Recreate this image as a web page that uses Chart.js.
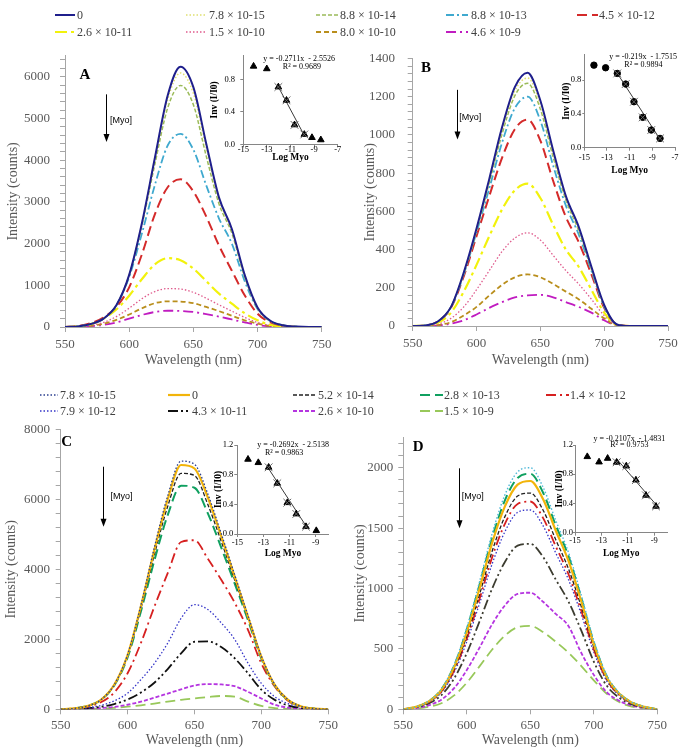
<!DOCTYPE html>
<html><head><meta charset="utf-8">
<script src="https://cdn.jsdelivr.net/npm/chart.js@4.4.0/dist/chart.umd.min.js"></script>
<style>
body{margin:0;background:#fff;width:685px;height:749px;position:relative;overflow:hidden;}
canvas{position:absolute;}
.clip{position:absolute;overflow:hidden;pointer-events:none;}
.lg{position:absolute;display:flex;align-items:center;height:16px;font-family:"Liberation Serif",serif;font-size:12px;color:#404040;white-space:nowrap;}
.lg svg{display:block;}
</style></head><body>
<canvas id="cA" width="341" height="334" style="left:0;top:38px"></canvas>
<canvas id="cB" width="344" height="334" style="left:341px;top:38px"></canvas>
<canvas id="cC" width="341" height="335" style="left:0;top:414px"></canvas>
<canvas id="cD" width="344" height="335" style="left:341px;top:414px"></canvas>
<div class="clip" style="left:0;top:0;width:341px;height:749px">
  <canvas id="iA" width="145" height="125" style="left:205px;top:45px"></canvas>
  <canvas id="iC" width="143" height="135" style="left:198px;top:430px"></canvas>
</div>
<canvas id="iB" width="140" height="135" style="left:545px;top:45px"></canvas>
<canvas id="iD" width="145" height="135" style="left:540px;top:430px"></canvas>
<div id="legends"></div>
<script>
// ---------------- DATA ----------------
const wavelength = [550,560,570,580,590,600,610,620,630,640,650,660,670,680,690,700,710,720,730,740,750];
const xTickLabels = [550,600,650,700,750];

// Panels A & B concentrations (M)
const concAB = ["0","7.8 × 10-15","8.8 × 10-14","8.8 × 10-13","4.5 × 10-12","2.6 × 10-11","1.5 × 10-10","8.0 × 10-10","4.6 × 10-9"];
// Panels C & D concentrations (M)
const concCD = ["7.8 × 10-15","0","5.2 × 10-14","2.8 × 10-13","1.4 × 10-12","7.9 × 10-12","4.3 × 10-11","2.6 × 10-10","1.5 × 10-9"];

// Panel A intensities (counts)
const A_0      = [0,15,70,200,520,1250,2500,4050,5550,6240,5750,4400,3100,2350,1250,470,150,40,10,0,0];
const A_78e15  = [0,15,70,200,520,1250,2490,4000,5450,6090,5600,4300,3050,2300,1230,460,150,40,10,0,0];
const A_88e14  = [0,15,70,200,520,1240,2450,3900,5250,5790,5330,4100,2950,2250,1200,450,140,40,10,0,0];
const A_88e13  = [0,15,70,200,510,1200,2250,3400,4350,4630,4250,3400,2600,2000,1100,430,140,40,10,0,0];
const A_45e12  = [0,20,90,230,480,950,1750,2700,3350,3540,3250,2650,1950,1350,760,320,110,30,5,0,0];
const A_26e11  = [0,15,70,200,420,750,1150,1500,1650,1600,1400,1100,800,560,330,160,50,15,0,0,0];
const A_15e10  = [0,10,40,110,250,450,680,850,920,910,830,690,530,380,230,110,40,10,0,0,0];
const A_80e10  = [0,8,30,80,170,300,450,570,615,610,570,480,380,270,160,80,25,5,0,0,0];
const A_46e9   = [0,5,20,50,110,200,290,360,390,385,360,310,250,180,110,50,15,5,0,0,0];

// Panel B intensities (counts)
const B_0      = [0,3,25,100,280,510,770,1040,1250,1325,1180,920,680,520,310,110,8,0,0,0,0];
const B_78e15  = [0,3,25,100,275,505,760,1025,1230,1298,1160,905,670,510,305,105,8,0,0,0,0];
const B_88e14  = [0,3,25,100,275,500,750,1005,1205,1270,1135,885,660,500,300,105,8,0,0,0,0];
const B_88e13  = [0,3,25,98,270,490,720,960,1140,1200,1075,840,630,480,290,100,8,0,0,0,0];
const B_45e12  = [0,3,25,95,260,470,680,880,1030,1080,970,760,570,440,270,95,8,0,0,0,0];
const B_26e11  = [0,2,18,70,180,320,470,610,710,745,670,530,400,310,190,70,6,0,0,0,0];
const B_15e10  = [0,1,10,40,100,190,290,390,460,488,450,370,290,220,140,55,5,0,0,0,0];
const B_80e10  = [0,1,5,20,55,100,160,215,255,270,255,220,180,140,90,40,4,0,0,0,0];
const B_46e9   = [0,0,3,12,30,60,95,125,150,160,163,150,125,100,70,30,3,0,0,0,0];

// Panel C intensities (counts)
const C_78e15  = [0,25,95,270,700,1560,2980,4620,6100,7090,7000,6150,5020,3850,2680,1520,710,275,80,20,0];
const C_0      = [0,25,95,270,700,1550,2950,4550,6000,6980,6880,6050,4950,3800,2650,1500,700,270,80,20,0];
const C_52e14  = [0,25,95,270,690,1520,2880,4420,5800,6740,6680,5850,4800,3700,2600,1480,690,265,80,20,0];
const C_28e13  = [0,25,95,265,680,1480,2800,4250,5550,6390,6330,5600,4620,3600,2550,1450,680,260,78,20,0];
const C_14e12  = [0,20,75,200,480,1030,1900,2930,3890,4780,4830,4300,3700,3050,2270,1310,650,240,70,18,0];
const C_79e12  = [0,10,40,110,240,460,850,1310,1890,2600,2990,2850,2470,2000,1320,740,360,160,55,15,0];
const C_43e11  = [0,8,30,70,150,280,480,760,1150,1600,1930,1940,1780,1460,1030,560,270,110,35,10,0];
const C_26e10  = [0,5,15,35,70,130,220,330,450,570,680,720,710,660,500,310,130,45,12,3,0];
const C_15e9   = [0,3,8,20,40,75,115,165,220,270,310,350,380,360,220,95,35,10,3,0,0];

// Panel D intensities (counts)
const D_78e15  = [0,21,68,168,370,675,1055,1455,1775,1965,2000,1840,1565,1300,950,570,285,135,58,21,0];
const D_0      = [0,20,65,160,350,640,1000,1380,1680,1860,1890,1740,1480,1230,900,540,270,130,55,20,0];
const D_52e14  = [0,19,62,152,332,608,950,1310,1595,1765,1790,1650,1405,1165,855,515,258,124,52,19,0];
const D_28e13  = [0,20,67,165,360,660,1030,1420,1730,1915,1950,1795,1525,1270,925,555,278,132,57,20,0];
const D_14e12  = [0,18,60,147,320,585,913,1260,1535,1700,1720,1585,1350,1120,820,495,248,120,50,18,0];
const D_79e12  = [0,17,57,140,305,560,875,1205,1470,1630,1650,1520,1295,1075,790,475,238,115,48,17,0];
const D_43e11  = [0,15,48,117,255,465,727,1000,1220,1355,1370,1262,1075,893,655,395,198,95,40,14,0];
const D_26e10  = [0,10,33,80,175,325,510,705,860,955,965,890,790,690,470,285,143,70,30,10,0];
const D_15e9   = [0,6,20,50,115,220,355,495,610,680,690,640,560,470,360,240,130,60,22,7,0];

// Insets: log[Myo] vs Inv(I/I0)
const insetA_x = [-14.13,-13.01,-12.03,-11.34,-10.66,-9.83,-9.18,-8.43];
const insetA_y = [0.966,0.934,0.709,0.544,0.240,0.122,0.083,0.055];
const insetA_fitX = [-12.03,-11.34,-10.66,-9.83];
const insetA_fitY = [0.709,0.544,0.240,0.122];
const insetA_lineX = [-12.03,-9.83];
const insetA_lineY = [0.71,0.11];

const insetB_x = [-14.15,-13.12,-12.09,-11.35,-10.62,-9.85,-9.09,-8.32];
const insetB_y = [0.977,0.946,0.879,0.753,0.544,0.359,0.209,0.110];
const insetB_fitX = [-12.09,-11.35,-10.62,-9.85,-9.09,-8.32];
const insetB_fitY = [0.879,0.753,0.544,0.359,0.209,0.110];
const insetB_lineX = [-12.09,-8.32];
const insetB_lineY = [0.88,0.10];

const insetC_x = [-14.18,-13.39,-12.60,-11.94,-11.17,-10.48,-9.74,-8.95];
const insetC_y = [1.007,0.962,0.899,0.683,0.422,0.270,0.099,0.045];
const insetC_fitX = [-12.60,-11.94,-11.17,-10.48,-9.74];
const insetC_fitY = [0.899,0.683,0.422,0.270,0.099];
const insetC_lineX = [-12.60,-9.74];
const insetC_lineY = [0.88,0.11];

const insetD_x = [-14.07,-13.18,-12.53,-11.85,-11.12,-10.39,-9.63,-8.87];
const insetD_y = [1.040,0.967,1.017,0.963,0.912,0.720,0.511,0.360];
const insetD_fitX = [-11.85,-11.12,-10.39,-9.63,-8.87];
const insetD_fitY = [0.963,0.912,0.720,0.511,0.360];
const insetD_lineX = [-11.85,-8.87];
const insetD_lineY = [1.01,0.385];

const insetXTicksAB = [-15,-13,-11,-9,-7];
const insetXTicksCD = [-15,-13,-11,-9];
const insetYTicksAB = [0,0.4,0.8];
const insetYTicksCD = [0,0.4,0.8,1.2];

const eqA = ["y = -0.2711x  - 2.5526","R² = 0.9689"];
const eqB = ["y = -0.219x  - 1.7515","R² = 0.9894"];
const eqC = ["y = -0.2692x  - 2.5138","R² = 0.9863"];
const eqD = ["y = -0.2107x  - 1.4831","R² = 0.9753"];

// ---------------- STYLES ----------------
const SERIF = '"Liberation Serif", "Times New Roman", serif';
const SANS = '"Liberation Sans", Arial, sans-serif';
const axisCol = '#A6A6A6', labelCol = '#595959';

const styleAB = [
  {color:'#1F1F8C', dash:[], width:2},
  {color:'#E0E070', dash:[1.5,2], width:1.5},
  {color:'#9BBB59', dash:[4,2], width:1.5},
  {color:'#3FA9CF', dash:[8,3,2,3], width:1.8},
  {color:'#D42A2A', dash:[10,5], width:2},
  {color:'#F2F20C', dash:[12,4,3,4], width:2.2},
  {color:'#DF5A8C', dash:[1.5,2], width:1.3},
  {color:'#B98E1C', dash:[5,3], width:1.8},
  {color:'#C01CC0', dash:[10,4,2,4], width:1.8}
];
const styleC = [
  {color:'#2B3F8F', dash:[1.5,2], width:1.3},
  {color:'#F2B40A', dash:[], width:2.2},
  {color:'#222222', dash:[4,2], width:1.3},
  {color:'#10A060', dash:[10,5], width:2},
  {color:'#D62020', dash:[10,4,2,4], width:1.8},
  {color:'#3535C8', dash:[1.5,2], width:1.3},
  {color:'#111111', dash:[10,3,2,3,2,3], width:1.8},
  {color:'#B535E0', dash:[4,2], width:1.8},
  {color:'#98C85A', dash:[10,5], width:1.8}
];
const styleD = styleC.map((s,i)=> i===0 ? {color:'#4FB8D8', dash:[1.5,2], width:1.4} : (i===6 ? {color:'#3C3C30', dash:[10,3,2,3,2,3], width:1.8} : s));

const seriesA = [A_0,A_78e15,A_88e14,A_88e13,A_45e12,A_26e11,A_15e10,A_80e10,A_46e9];
const seriesB = [B_0,B_78e15,B_88e14,B_88e13,B_45e12,B_26e11,B_15e10,B_80e10,B_46e9];
const seriesC = [C_78e15,C_0,C_52e14,C_28e13,C_14e12,C_79e12,C_43e11,C_26e10,C_15e9];
const seriesD = [D_78e15,D_0,D_52e14,D_28e13,D_14e12,D_79e12,D_43e11,D_26e10,D_15e9];

// ---------------- PLUGIN ----------------
const annotPlugin = {
  id:'annot',
  afterDatasetsDraw(chart, args, o){
    if(!o) return;
    const ctx = chart.ctx, xs = chart.scales.x, ys = chart.scales.y;
    ctx.save();
    (o.texts||[]).forEach(t=>{
      ctx.font = t.font; ctx.fillStyle = t.color||'#000';
      ctx.textAlign = t.align||'left'; ctx.textBaseline='middle';
      ctx.fillText(t.text, xs.getPixelForValue(t.x), ys.getPixelForValue(t.y));
    });
    if(o.arrow){
      const a=o.arrow, px=Math.round(xs.getPixelForValue(a.x))+0.5, y1=ys.getPixelForValue(a.y1), y2=ys.getPixelForValue(a.y2);
      ctx.strokeStyle='#000'; ctx.lineWidth=1;
      ctx.beginPath(); ctx.moveTo(px,y1); ctx.lineTo(px,y2-5); ctx.stroke();
      ctx.fillStyle='#000'; ctx.beginPath(); ctx.moveTo(px,y2); ctx.lineTo(px-3,y2-8); ctx.lineTo(px+3,y2-8); ctx.closePath(); ctx.fill();
    }
    ctx.restore();
  }
};

function minorTicks(first, step, max){
  const t=[]; for(let v=first; v<=max+1e-9; v+=step) t.push({value:Math.round(v*1000)/1000}); return t;
}

function mainChart(id, series, styles, labels, c){
  return new Chart(document.getElementById(id), {
    type:'line',
    data:{datasets: series.map((vals,i)=>({
      label: labels[i],
      data: wavelength.map((w,k)=>({x:w, y:vals[k]})),
      borderColor: styles[i].color, borderWidth: styles[i].width, borderDash: styles[i].dash,
      pointRadius:0, fill:false, cubicInterpolationMode:'monotone', borderCapStyle:'butt'
    }))},
    options:{
      responsive:false, animation:false, events:[],
      layout:{autoPadding:false, padding:c.pad},
      plugins:{legend:{display:false}, tooltip:{enabled:false}, annot:c.annot},
      scales:{
        x:{type:'linear', min:550, max:750,
          afterBuildTicks:s=>{s.ticks = xTickLabels.map(v=>({value:v}));},
          afterFit:s=>{s.height=c.xh;},
          grid:{drawOnChartArea:false, tickLength:5, color:axisCol},
          border:{color:axisCol, width:1},
          ticks:{autoSkip:false, maxRotation:0, padding:c.xtp, color:labelCol, font:{family:SERIF, size:13}, callback:v=>String(v)},
          title:{display:true, text:'Wavelength (nm)', color:labelCol, font:{family:SERIF, size:14}, padding:{top:0, bottom:c.xtitle}}
        },
        y:{type:'linear', min:0, max:c.ymax,
          afterBuildTicks:s=>{s.ticks = minorTicks(0, c.yminor, c.ymax);},
          afterFit:s=>{s.width=c.yw;},
          grid:{drawOnChartArea:false, tickLength:5, color:axisCol},
          border:{color:axisCol, width:1},
          ticks:{autoSkip:false, padding:c.ytp, color:labelCol, font:{family:SERIF, size:13},
            callback:v=> c.ymajors.includes(v) ? String(v) : ''},
          title:{display:true, text:'Intensity (counts)', color:labelCol, font:{family:SERIF, size:14}, padding:{top:c.ytitle, bottom:0}}
        }
      }
    },
    plugins:[annotPlugin]
  });
}

function insetChart(id, d, c){
  return new Chart(document.getElementById(id), {
    type:'scatter',
    data:{datasets:[
      {data:d.fitX.map((x,i)=>({x, y:d.fitY[i]})), pointStyle:'crossRot', pointRadius:5.5, borderColor:'#6A6A6A', pointBorderWidth:1, showLine:false},
      {data:d.x.map((x,i)=>({x, y:d.y[i]})), pointStyle:c.marker, pointRadius:c.mr, backgroundColor:'#000', borderColor:'#000', showLine:false},
      {data:d.lineX.map((x,i)=>({x, y:d.lineY[i]})), showLine:true, pointRadius:0, borderColor:'#3A3A3A', borderWidth:1}
    ]},
    options:{
      responsive:false, animation:false, events:[],
      layout:{autoPadding:false, padding:c.pad},
      plugins:{legend:{display:false}, tooltip:{enabled:false}, annot:{texts:c.texts}},
      scales:{
        x:{type:'linear', min:-15, max:c.xmax,
          afterBuildTicks:s=>{s.ticks = c.xticks.map(v=>({value:v}));},
          afterFit:s=>{s.height=c.xh;},
          grid:{drawOnChartArea:false, tickLength:3, color:'#868686'},
          border:{color:'#868686', width:1},
          ticks:{autoSkip:false, maxRotation:0, padding:c.xtp, color:'#000', font:{family:SERIF, size:8.5}, callback:v=>String(v)},
          title:{display:true, text:'Log Myo', color:'#000', font:{family:SERIF, size:9.5, weight:'bold'}, padding:{top:0, bottom:c.xtitle}}
        },
        y:{type:'linear', min:0, max:c.ymax,
          afterBuildTicks:s=>{s.ticks = c.yticks.map(v=>({value:v}));},
          afterFit:s=>{s.width=c.yw;},
          grid:{drawOnChartArea:false, tickLength:c.ytl, color:'#868686'},
          border:{color:'#868686', width:1},
          ticks:{autoSkip:false, padding:c.ytp, color:'#000', font:{family:SERIF, size:8.5}, callback:v=>v.toFixed(1)},
          title:{display:true, text:'Inv (I/I0)', color:'#000', font:{family:SERIF, size:9.5, weight:'bold'}, padding:{top:c.ytitle, bottom:0}}
        }
      }
    },
    plugins:[annotPlugin]
  });
}

const letterFont = 'bold 15px '+SERIF, myoFont = '9px '+SANS, eqFont = '8px '+SERIF;

mainChart('cA', seriesA, styleAB, concAB, {
  pad:{left:0,right:19.3,top:9.9,bottom:0}, xh:45, yw:65, ymax:6500, yminor:200,
  ymajors:[0,1000,2000,3000,4000,5000,6000], ytp:10, ytitle:4.6, xtp:5, xtitle:3,
  annot:{texts:[{text:'A', x:565.6, y:6040, font:letterFont, align:'center'},
                {text:'[Myo]', x:585, y:4946, font:myoFont}],
         arrow:{x:582, y1:5576, y2:4433}}
});
mainChart('cB', seriesB, styleAB, concAB, {
  pad:{left:0,right:17,top:18.7,bottom:0}, xh:46, yw:71.7, ymax:1400, yminor:40,
  ymajors:[0,200,400,600,800,1000,1200,1400], ytp:12.7, ytitle:20.6, xtp:4.5, xtitle:3.6,
  annot:{texts:[{text:'B', x:560.4, y:1348, font:letterFont, align:'center'},
                {text:'[Myo]', x:586.5, y:1092, font:myoFont}],
         arrow:{x:585, y1:1236, y2:976}}
});
mainChart('cC', seriesC, styleC, concCD, {
  pad:{left:0,right:10,top:15.3,bottom:0}, xh:39.7, yw:60.7, ymax:8000, yminor:400,
  ymajors:[0,2000,4000,6000,8000], ytp:5.7, ytitle:3.3, xtp:3, xtitle:0.6,
  annot:{texts:[{text:'C', x:554.4, y:7646, font:letterFont, align:'center'},
                {text:'[Myo]', x:587.2, y:6074, font:myoFont}],
         arrow:{x:581.8, y1:6931, y2:5217}}
});
mainChart('cD', seriesD, styleD, concCD, {
  pad:{left:0,right:27.7,top:23.5,bottom:0}, xh:39.7, yw:62.3, ymax:2250, yminor:100,
  ymajors:[0,500,1000,1500,2000], ytp:5, ytitle:10.6, xtp:3, xtitle:0.6,
  annot:{texts:[{text:'D', x:561.8, y:2174, font:letterFont, align:'center'},
                {text:'[Myo]', x:596, y:1760, font:myoFont}],
         arrow:{x:594, y1:1995, y2:1498}}
});

insetChart('iA', {x:insetA_x, y:insetA_y, fitX:insetA_fitX, fitY:insetA_fitY, lineX:insetA_lineX, lineY:insetA_lineY}, {
  pad:{left:0,right:12.3,top:6.35,bottom:0}, xh:25.7, yw:38.3, xmax:-7, ymax:1.1,
  xticks:insetXTicksAB, yticks:insetYTicksAB, xtp:-3, xtitle:6.6, ytl:3, ytp:5.3, ytitle:4.3,
  marker:'triangle', mr:3.8,
  texts:[{text:eqA[0], x:-13.3, y:1.057, font:eqFont},{text:eqA[1], x:-11.65, y:0.958, font:eqFont}]
});
insetChart('iB', {x:insetB_x, y:insetB_y, fitX:insetB_fitX, fitY:insetB_fitY, lineX:insetB_lineX, lineY:insetB_lineY}, {
  pad:{left:0,right:10,top:9.75,bottom:0}, xh:32.3, yw:39.3, xmax:-7, ymax:1.1,
  xticks:insetXTicksAB, yticks:insetYTicksAB, xtp:1.5, xtitle:3.6, ytl:2, ytp:1, ytitle:16,
  marker:'circle', mr:3.2,
  texts:[{text:eqB[0], x:-12.8, y:1.077, font:eqFont},{text:eqB[1], x:-11.47, y:0.979, font:eqFont}]
});
insetChart('iC', {x:insetC_x, y:insetC_y, fitX:insetC_fitX, fitY:insetC_fitY, lineX:insetC_lineX, lineY:insetC_lineY}, {
  pad:{left:0,right:12.3,top:15,bottom:0}, xh:31, yw:39.3, xmax:-8, ymax:1.2,
  xticks:insetXTicksCD, yticks:insetYTicksCD, xtp:0.6, xtitle:5.3, ytl:3, ytp:1, ytitle:14.6,
  marker:'triangle', mr:3.8,
  texts:[{text:eqC[0], x:-13.47, y:1.2, font:eqFont},{text:eqC[1], x:-12.88, y:1.088, font:eqFont}]
});
insetChart('iD', {x:insetD_x, y:insetD_y, fitX:insetD_fitX, fitY:insetD_fitY, lineX:insetD_lineX, lineY:insetD_lineY}, {
  pad:{left:0,right:17.5,top:15,bottom:0}, xh:32.3, yw:35, xmax:-8, ymax:1.2,
  xticks:insetXTicksCD, yticks:insetYTicksCD, xtp:0.2, xtitle:5.3, ytl:2, ytp:0, ytitle:14.3,
  marker:'triangle', mr:3.8,
  texts:[{text:eqD[0], x:-13.6, y:1.29, font:eqFont},{text:eqD[1], x:-12.33, y:1.2, font:eqFont}]
});

// ---------------- LEGENDS (HTML) ----------------
function legend(labels, styles, rows, cols, order){
  const host = document.getElementById('legends');
  order.forEach((idx, n)=>{
    const r = Math.floor(n/5), col = cols[n%5], st = styles[idx];
    const div = document.createElement('div'); div.className='lg';
    div.style.left = col[0]+'px'; div.style.top = (rows[r]-8)+'px';
    const w = col[2]-col[0], lw = col[1]-col[0];
    const dash = st.dash.length ? st.dash.join(',') : 'none';
    div.innerHTML = '<svg width="'+w+'" height="16"><line x1="0" y1="8" x2="'+lw+'" y2="8" stroke="'+st.color+'" stroke-width="'+Math.max(st.width,1.5)+'" stroke-dasharray="'+dash+'"/></svg>';
    const sp = document.createElement('span'); sp.textContent = labels[idx]; div.appendChild(sp);
    host.appendChild(div);
  });
}
legend(concAB, styleAB, [15,32], [[55,75,77],[186,207,209],[316,339,340],[446,468,471],[577,598,599]], [0,1,2,3,4,5,6,7,8]);
legend(concCD, styleC, [395,411], [[40,58,60],[168,190,192],[293,317,318],[420,443,444],[546,569,570]], [0,1,2,3,4,5,6,7,8]);
</script>
</body></html>
